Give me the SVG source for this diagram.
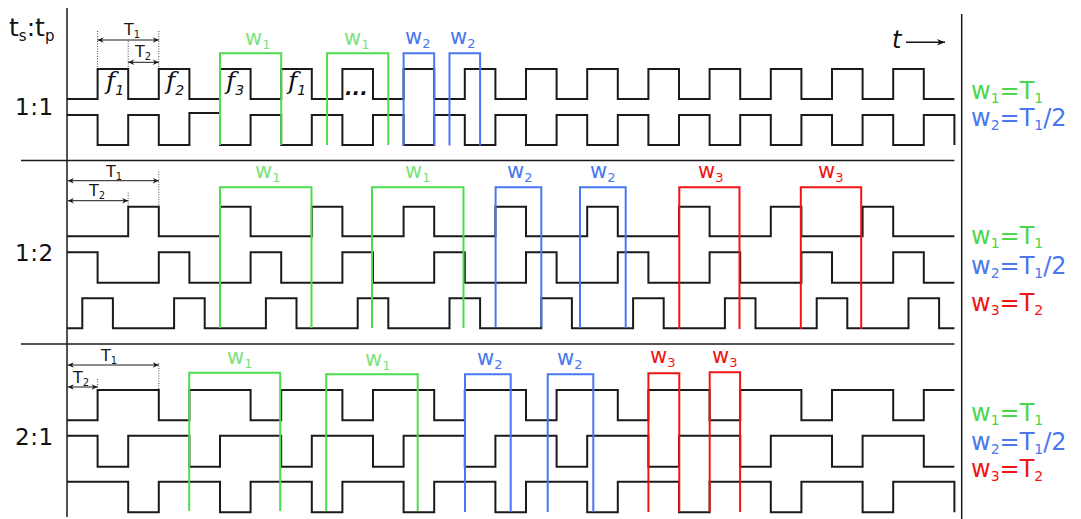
<svg xmlns="http://www.w3.org/2000/svg" width="1081" height="519" viewBox="0 0 1081 519">
<defs>
<style>
.wave{fill:none;stroke:#1a1a1a;stroke-width:2;stroke-linejoin:miter}
.axis{fill:none;stroke:#1a1a1a;stroke-width:1.5}
.sep{fill:none;stroke:#1a1a1a;stroke-width:1.6}
.g{fill:none;stroke:#4ddc4d;stroke-width:2}
.b{fill:none;stroke:#4a76ee;stroke-width:2}
.r{fill:none;stroke:#f01414;stroke-width:2}
.dim{fill:none;stroke:#1a1a1a;stroke-width:1;marker-start:url(#ah);marker-end:url(#ah)}
.dot{fill:none;stroke:#444;stroke-width:1;stroke-dasharray:1 1.5}
text{font-family:"DejaVu Sans","Liberation Sans",sans-serif}
.wl{font-size:21px}
.lg{fill:#7ee27e}
.rg{fill:#4cd64c}
.lb{fill:#4a76ee}
.lr{fill:#f01414}
.rl{font-size:24px}
.tl{font-size:16px;fill:#1a1a1a}
.fl{font-family:"DejaVu Serif","Liberation Serif",serif;font-style:italic;font-size:25px;fill:#111}
.ratio{font-size:23px;fill:#111;letter-spacing:0.5px}
</style>
<marker id="ah" viewBox="0 0 10 10" refX="10" refY="5" markerWidth="8" markerHeight="6" markerUnits="userSpaceOnUse" orient="auto-start-reverse">
<path d="M0,0.5 L10,5 L0,9.5 L3,5 z" fill="#1a1a1a"/>
</marker>
<marker id="ta" viewBox="0 0 10 10" refX="10" refY="5" markerWidth="11" markerHeight="8" markerUnits="userSpaceOnUse" orient="auto">
<path d="M0,1 L10,5 L0,9 L3,5 z" fill="#111"/>
</marker>
</defs>
<rect width="1081" height="519" fill="#fff"/>

<g id="frame">
<line class="axis" x1="67" y1="8" x2="67" y2="517"/>
<line class="axis" x1="961.7" y1="14" x2="961.7" y2="519"/>
<line class="sep" x1="21" y1="160.5" x2="954.4" y2="160.5"/>
<line class="sep" x1="21" y1="344" x2="954.4" y2="344"/>
</g>

<g id="header">
<text x="9" y="36" font-size="25" fill="#111">t<tspan font-size="15" dy="5">s</tspan><tspan dy="-5">:t</tspan><tspan font-size="15" dy="5">p</tspan></text>
<text x="892" y="48" font-size="24" font-style="italic" fill="#111">t</text>
<line x1="906" y1="42.3" x2="945" y2="42.3" stroke="#111" stroke-width="1.5" marker-end="url(#ta)"/>
</g>

<g id="section-1-1">
<text class="ratio" x="15" y="115">1:1</text>
<path class="wave" d="M67,99 H97.6 V69 H128.2 V99 H158.8 V69 H189.4 V99 H220 V69 H250.6 V99 H281.2 V69 H311.8 V99 H342.4 V69 H373 V99 H403.6 V69 H434.2 V99 H464.8 V69 H495.4 V99 H526 V69 H556.6 V99 H587.2 V69 H617.8 V99 H648.4 V69 H679 V99 H709.6 V69 H740.2 V99 H770.8 V69 H801.4 V99 H832 V69 H862.6 V99 H893.2 V69 H923.8 V99 H954.4"/>
<path class="wave" d="M67,115 H97.6 V145 H128.2 V115 H158.8 V145 H189.4 V113 H220 V145 H250.6 V115 H281.2 V145 H311.8 V115 H342.4 V145 H373 V115 H403.6 V145 H434.2 V115 H464.8 V145 H495.4 V115 H526 V145 H556.6 V115 H587.2 V145 H617.8 V115 H648.4 V145 H679 V115 H709.6 V145 H740.2 V115 H770.8 V145 H801.4 V115 H832 V145 H862.6 V115 H893.2 V145 H923.8 V115 H954.4 V145"/>
<line class="dot" x1="97.6" y1="31" x2="97.6" y2="68"/>
<line class="dot" x1="128.2" y1="41" x2="128.2" y2="68"/>
<line class="dot" x1="158.8" y1="31" x2="158.8" y2="68"/>
<line class="dim" x1="97.6" y1="40" x2="158.8" y2="40"/>
<line class="dim" x1="128.2" y1="62.3" x2="158.8" y2="62.3"/>
<text class="tl" x="124" y="35">T<tspan font-size="10" dy="3">1</tspan></text>
<text class="tl" x="135" y="57">T<tspan font-size="10" dy="3">2</tspan></text>
<text class="fl" x="106" y="89">f<tspan font-family="DejaVu Sans" font-size="14" dy="6">1</tspan></text>
<text class="fl" x="166" y="89">f<tspan font-family="DejaVu Sans" font-size="14" dy="6">2</tspan></text>
<text class="fl" x="226" y="89">f<tspan font-family="DejaVu Sans" font-size="14" dy="6">3</tspan></text>
<text class="fl" x="288" y="89">f<tspan font-family="DejaVu Sans" font-size="14" dy="6">1</tspan></text>
<text x="345" y="95" font-size="20" font-style="italic" font-weight="bold" fill="#111">...</text>
<path class="g" d="M220,145 V53.3 H281.2 V145"/>
<path class="g" d="M327.1,145 V53.3 H388.3 V145"/>
<path class="b" d="M403.6,145.5 V53.3 H434.2 V145.5"/>
<path class="b" d="M449.5,145.5 V53.3 H480.1 V145.5"/>
<text class="wl lg" x="245" y="45">w<tspan font-size="13" dy="4">1</tspan></text>
<text class="wl lg" x="344" y="45">w<tspan font-size="13" dy="4">1</tspan></text>
<text class="wl lb" x="405" y="44">w<tspan font-size="13" dy="4">2</tspan></text>
<text class="wl lb" x="450" y="44">w<tspan font-size="13" dy="4">2</tspan></text>
<text class="rl rg" x="971" y="99">w<tspan font-size="14" dy="4">1</tspan><tspan dy="-4">=T</tspan><tspan font-size="14" dy="4">1</tspan></text>
<text class="rl lb" x="971" y="126">w<tspan font-size="14" dy="4">2</tspan><tspan dy="-4">=T</tspan><tspan font-size="14" dy="4">1</tspan><tspan dy="-4">/2</tspan></text>
</g>

<g id="section-1-2">
<text class="ratio" x="15" y="261">1:2</text>
<path class="wave" d="M67,236.3 H128.2 V206.7 H158.8 V236.3 H220 V206.7 H250.6 V236.3 H311.8 V206.7 H342.4 V236.3 H403.6 V206.7 H434.2 V236.3 H495.4 V206.7 H526 V236.3 H587.2 V206.7 H617.8 V236.3 H679 V206.7 H709.6 V236.3 H770.8 V206.7 H801.4 V236.3 H862.6 V206.7 H893.2 V236.3 H954.4"/>
<path class="wave" d="M67,252.3 H97.6 V282.7 H158.8 V252.3 H189.4 V282.7 H250.6 V252.3 H281.2 V282.7 H342.4 V252.3 H373 V282.7 H434.2 V252.3 H464.8 V282.7 H526 V252.3 H556.6 V282.7 H617.8 V252.3 H648.4 V282.7 H709.6 V252.3 H740.2 V282.7 H801.4 V252.3 H832 V282.7 H893.2 V252.3 H923.8 V282.7 H954.4"/>
<path class="wave" d="M67,328.3 H82.3 V298.3 H112.9 V328.3 H174.1 V298.3 H204.7 V328.3 H265.9 V298.3 H296.5 V328.3 H357.7 V298.3 H388.3 V328.3 H449.5 V298.3 H480.1 V328.3 H541.3 V298.3 H571.9 V328.3 H633.1 V298.3 H663.7 V328.3 H724.9 V298.3 H755.5 V328.3 H816.7 V298.3 H847.3 V328.3 H908.5 V298.3 H939.1 V328.3 H954.4"/>
<line class="dot" x1="158.8" y1="171.7" x2="158.8" y2="206"/>
<line class="dot" x1="128.2" y1="192.7" x2="128.2" y2="206"/>
<line class="dim" x1="67.8" y1="180.7" x2="158.8" y2="180.7"/>
<line class="dim" x1="67.8" y1="200.7" x2="128.2" y2="200.7"/>
<text class="tl" x="106" y="177">T<tspan font-size="10" dy="3">1</tspan></text>
<text class="tl" x="89" y="196">T<tspan font-size="10" dy="3">2</tspan></text>
<path class="g" d="M220,328 V187.3 H311.5 V328"/>
<path class="g" d="M372,328 V187.3 H463.5 V328"/>
<path class="b" d="M495.6,327 V187.3 H541.3 V327"/>
<path class="b" d="M580,328 V187.3 H625.7 V328"/>
<path class="r" d="M679.3,329 V187.3 H739.5 V329"/>
<path class="r" d="M800.8,329 V187.3 H861.2 V329"/>
<text class="wl lg" x="255" y="178">w<tspan font-size="13" dy="4">1</tspan></text>
<text class="wl lg" x="405" y="178">w<tspan font-size="13" dy="4">1</tspan></text>
<text class="wl lb" x="507" y="178">w<tspan font-size="13" dy="4">2</tspan></text>
<text class="wl lb" x="590" y="178">w<tspan font-size="13" dy="4">2</tspan></text>
<text class="wl lr" x="698" y="178">w<tspan font-size="13" dy="4">3</tspan></text>
<text class="wl lr" x="818" y="178">w<tspan font-size="13" dy="4">3</tspan></text>
<text class="rl rg" x="971" y="244">w<tspan font-size="14" dy="4">1</tspan><tspan dy="-4">=T</tspan><tspan font-size="14" dy="4">1</tspan></text>
<text class="rl lb" x="971" y="274">w<tspan font-size="14" dy="4">2</tspan><tspan dy="-4">=T</tspan><tspan font-size="14" dy="4">1</tspan><tspan dy="-4">/2</tspan></text>
<text class="rl lr" x="971" y="311">w<tspan font-size="14" dy="4">3</tspan><tspan dy="-4">=T</tspan><tspan font-size="14" dy="4">2</tspan></text>
</g>

<g id="section-2-1">
<text class="ratio" x="15" y="445">2:1</text>
<path class="wave" d="M67,420.3 H97.6 V390 H158.8 V420.3 H189.4 V390 H250.6 V420.3 H281.2 V390 H342.4 V420.3 H373 V390 H434.2 V420.3 H464.8 V390 H526 V420.3 H556.6 V390 H617.8 V420.3 H648.4 V390 H709.6 V420.3 H740.2 V390 H801.4 V420.3 H832 V390 H893.2 V420.3 H923.8 V390 H954.4"/>
<path class="wave" d="M67,435.7 H97.6 V466.7 H128.2 V435.7 H189.4 V466.7 H220 V435.7 H281.2 V466.7 H311.8 V435.7 H373 V466.7 H403.6 V435.7 H464.8 V466.7 H495.4 V435.7 H556.6 V466.7 H587.2 V435.7 H648.4 V466.7 H679 V435.7 H740.2 V466.7 H770.8 V435.7 H832 V466.7 H862.6 V435.7 H923.8 V466.7 H954.4"/>
<path class="wave" d="M67,481.7 H128.2 V512.3 H158.8 V481.7 H220 V512.3 H250.6 V481.7 H311.8 V512.3 H342.4 V481.7 H403.6 V512.3 H434.2 V481.7 H495.4 V512.3 H526 V481.7 H587.2 V512.3 H617.8 V481.7 H679 V512.3 H709.6 V481.7 H770.8 V512.3 H801.4 V481.7 H862.6 V512.3 H893.2 V481.7 H954.4 V512.3"/>
<line class="dot" x1="158.8" y1="363" x2="158.8" y2="389"/>
<line class="dot" x1="97.6" y1="379" x2="97.6" y2="389"/>
<line class="dim" x1="67.8" y1="365" x2="158.8" y2="365"/>
<line class="dim" x1="67.8" y1="387" x2="97.6" y2="387"/>
<text class="tl" x="101" y="361">T<tspan font-size="10" dy="3">1</tspan></text>
<text class="tl" x="73" y="383">T<tspan font-size="10" dy="3">2</tspan></text>
<path class="g" d="M189.2,511 V372.7 H280.2 V511"/>
<path class="g" d="M326.2,511 V374.3 H417.7 V511"/>
<path class="b" d="M465,512 V374.3 H510.7 V512"/>
<path class="b" d="M547.7,512 V374.3 H593.3 V512"/>
<path class="r" d="M648.4,512 V373.3 H679.3 V512"/>
<path class="r" d="M709.7,512 V372.3 H740.1 V512"/>
<text class="wl lg" x="227" y="364">w<tspan font-size="13" dy="4">1</tspan></text>
<text class="wl lg" x="365" y="366">w<tspan font-size="13" dy="4">1</tspan></text>
<text class="wl lb" x="477" y="365">w<tspan font-size="13" dy="4">2</tspan></text>
<text class="wl lb" x="557" y="365">w<tspan font-size="13" dy="4">2</tspan></text>
<text class="wl lr" x="650" y="363">w<tspan font-size="13" dy="4">3</tspan></text>
<text class="wl lr" x="712" y="363">w<tspan font-size="13" dy="4">3</tspan></text>
<text class="rl rg" x="971" y="420.7">w<tspan font-size="14" dy="4">1</tspan><tspan dy="-4">=T</tspan><tspan font-size="14" dy="4">1</tspan></text>
<text class="rl lb" x="971" y="450">w<tspan font-size="14" dy="4">2</tspan><tspan dy="-4">=T</tspan><tspan font-size="14" dy="4">1</tspan><tspan dy="-4">/2</tspan></text>
<text class="rl lr" x="971" y="477.3">w<tspan font-size="14" dy="4">3</tspan><tspan dy="-4">=T</tspan><tspan font-size="14" dy="4">2</tspan></text>
</g>
</svg>
